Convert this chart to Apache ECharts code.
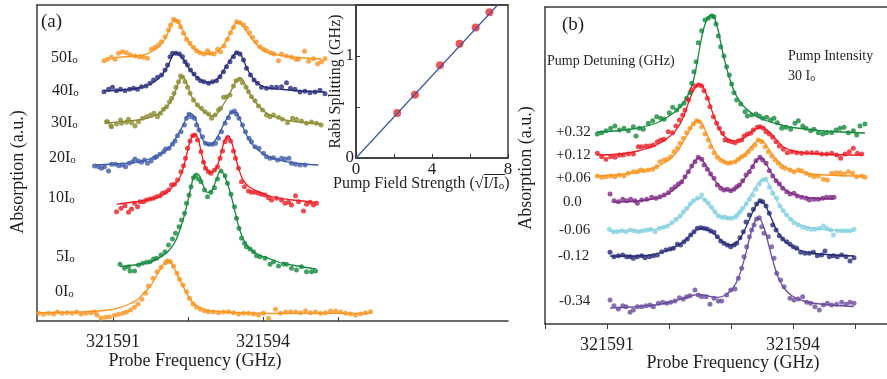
<!DOCTYPE html>
<html><head><meta charset="utf-8">
<script src="https://cdn.jsdelivr.net/npm/echarts@6/dist/echarts.min.js"></script>
<style>html,body{margin:0;padding:0;background:#fff}#c{width:887px;height:379px}</style>
</head><body><div id="c"></div>
<script>
// x values are offsets (GHz) from F0; y values are absorption (a.u.)
const F0 = 321590;
const FONT = '"Liberation Serif", "Times New Roman", serif';
const TXT = '#231f20';

// ---------- Panel (a) ----------
const a0_pts = [[-0.49,0.77],[-0.39,0.67],[-0.29,0.77],[-0.19,0.70],[-0.11,0.90],[-0.02,0.77],[0.08,0.83],[0.18,0.77],[0.27,0.90],[0.36,0.70],[0.45,0.77],[0.55,0.83],[0.63,0.90],[0.68,0.60],[0.76,0.27],[0.85,0.37],[0.93,0.43],[1.03,0.57],[1.11,0.67],[1.20,0.77],[1.27,0.90],[1.35,1.10],[1.43,1.37],[1.50,1.70],[1.58,2.17],[1.65,2.77],[1.71,3.50],[1.80,4.27],[1.88,4.93],[1.96,5.37],[2.05,5.83],[2.09,6.03],[2.15,5.93],[2.21,5.50],[2.28,4.77],[2.33,4.17],[2.40,3.60],[2.47,2.93],[2.53,2.27],[2.60,1.70],[2.67,1.37],[2.75,1.17],[2.83,1.03],[2.91,0.93],[3.01,0.90],[3.11,0.83],[3.21,0.90],[3.31,0.93],[3.41,0.83],[3.51,0.70],[3.61,0.77],[3.71,0.77],[3.81,0.70],[3.91,0.60],[4.01,0.77],[4.11,0.27],[4.25,1.17],[4.35,0.77],[4.45,0.90],[4.55,0.90],[4.65,0.90],[4.75,0.83],[4.85,1.03],[4.95,0.83],[5.05,0.90],[5.15,0.77],[5.25,0.83],[5.35,1.00],[5.45,1.00],[5.55,0.90],[5.65,0.77],[5.75,0.70],[5.85,0.60],[5.95,0.70],[6.05,0.83],[6.15,0.93]];
const a0_fit = [[-0.52,0.83],[0.0,0.87],[0.48,0.93],[0.9,1.1],[1.15,1.37],[1.35,1.75],[1.48,2.1],[1.6,2.7],[1.75,3.5],[1.88,4.6],[1.97,5.4],[2.05,5.9],[2.1,6.05],[2.16,5.85],[2.23,5.2],[2.35,4.0],[2.45,3.0],[2.55,2.1],[2.68,1.5],[2.81,1.17],[3.1,0.95],[3.48,0.83],[4.15,0.75],[5.0,0.77],[6.15,0.77]];

const a5_pts = [[1.14,5.67],[1.23,5.27],[1.31,5.43],[1.34,5.0],[1.43,5.0],[1.51,5.6],[1.59,5.77],[1.67,5.87],[1.74,5.93],[1.81,6.2],[1.87,6.27],[1.96,6.6],[2.04,6.93],[2.11,7.6],[2.19,8.2],[2.25,8.77],[2.32,9.43],[2.37,10.1],[2.43,10.77],[2.47,11.77],[2.52,12.6],[2.56,13.43],[2.61,14.33],[2.65,14.53],[2.71,14.2],[2.76,13.93],[2.83,13.1],[2.89,12.43],[2.96,12.87],[3.03,13.33],[3.09,14.2],[3.16,15.0],[3.24,14.53],[3.29,13.77],[3.36,12.67],[3.43,11.43],[3.47,10.27],[3.52,9.27],[3.57,8.27],[3.63,7.77],[3.67,7.43],[3.74,7.2],[3.81,6.93],[3.87,6.53],[3.94,6.43],[4.04,6.27],[4.14,5.67],[4.21,5.93],[4.31,5.5],[4.41,5.7],[4.47,5.67],[4.57,5.27],[4.67,5.1],[4.77,5.43],[4.87,4.93],[4.97,4.93],[5.05,5.0]];
const a5_fit = [[1.14,5.43],[1.5,5.65],[1.77,5.93],[1.95,6.4],[2.11,7.0],[2.25,8.0],[2.37,9.6],[2.45,11.0],[2.51,12.27],[2.57,13.6],[2.61,14.43],[2.67,14.77],[2.74,14.43],[2.8,13.6],[2.89,12.87],[2.96,12.95],[3.01,13.43],[3.08,14.3],[3.14,14.93],[3.21,14.77],[3.26,14.1],[3.31,13.43],[3.38,12.2],[3.44,10.93],[3.5,9.7],[3.57,8.6],[3.66,7.7],[3.77,7.1],[3.9,6.65],[4.11,6.27],[4.3,5.9],[4.57,5.6],[5.05,5.2]];

const a10_pts = [[1.07,10.93],[1.16,11.27],[1.24,11.53],[1.31,10.87],[1.37,11.2],[1.43,11.77],[1.49,11.43],[1.54,11.93],[1.61,11.93],[1.67,12.1],[1.74,12.2],[1.81,12.27],[1.87,12.43],[1.94,12.53],[1.99,12.77],[2.05,12.87],[2.11,13.1],[2.17,13.6],[2.23,13.67],[2.29,14.1],[2.36,14.93],[2.41,15.53],[2.45,16.27],[2.49,17.27],[2.54,18.0],[2.59,18.53],[2.64,18.6],[2.69,18.1],[2.76,16.93],[2.81,15.87],[2.85,15.27],[2.91,14.93],[2.96,14.77],[3.03,15.1],[3.09,15.43],[3.14,16.27],[3.19,17.0],[3.24,17.93],[3.29,18.33],[3.35,18.0],[3.41,17.0],[3.45,16.27],[3.51,15.27],[3.57,13.93],[3.63,13.43],[3.71,13.0],[3.77,12.87],[3.84,12.87],[3.91,12.77],[3.97,12.67],[4.04,12.6],[4.11,12.33],[4.17,12.1],[4.27,12.27],[4.37,12.1],[4.44,11.77],[4.51,11.87],[4.57,11.6],[4.65,12.53],[4.71,11.93],[4.81,11.0],[4.87,11.67],[4.94,11.87],[5.01,11.6],[5.07,11.77]];
const a10_fit = [[1.07,11.67],[1.4,11.9],[1.77,12.2],[1.95,12.5],[2.11,13.0],[2.22,13.6],[2.31,14.1],[2.38,14.9],[2.44,15.93],[2.49,17.0],[2.54,17.93],[2.59,18.5],[2.63,18.67],[2.67,18.5],[2.71,18.1],[2.76,17.0],[2.81,15.93],[2.86,15.25],[2.91,14.93],[2.97,14.9],[3.04,15.1],[3.1,15.7],[3.17,16.93],[3.22,17.9],[3.27,18.43],[3.31,18.5],[3.34,18.27],[3.39,17.6],[3.44,16.6],[3.5,15.5],[3.57,14.43],[3.66,13.7],[3.77,13.27],[3.95,12.85],[4.17,12.43],[4.6,12.1],[5.07,11.87]];

const a20_pts = [[0.63,15.5],[0.71,15.43],[0.77,15.27],[0.83,15.43],[0.91,15.0],[0.97,15.67],[1.05,15.67],[1.12,15.53],[1.19,15.6],[1.25,15.43],[1.32,15.77],[1.39,15.93],[1.44,16.2],[1.51,16.0],[1.57,15.87],[1.63,16.1],[1.69,15.77],[1.76,16.0],[1.83,16.33],[1.87,16.43],[1.94,16.67],[2.01,16.93],[2.05,17.2],[2.12,17.27],[2.19,17.67],[2.24,18.0],[2.29,18.53],[2.36,18.93],[2.43,19.6],[2.47,20.27],[2.52,20.67],[2.57,20.43],[2.63,20.27],[2.67,19.6],[2.72,19.1],[2.79,18.43],[2.85,17.77],[2.92,17.67],[2.99,17.67],[3.05,17.77],[3.11,18.27],[3.17,18.93],[3.24,19.77],[3.31,20.33],[3.37,20.87],[3.43,21.0],[3.47,20.67],[3.52,20.27],[3.59,19.6],[3.65,18.93],[3.72,18.27],[3.77,17.93],[3.84,17.43],[3.92,17.27],[4.01,16.77],[4.07,16.43],[4.14,16.27],[4.21,16.33],[4.29,16.1],[4.37,16.27],[4.44,16.2],[4.52,16.27],[4.57,15.77],[4.65,15.67],[4.74,15.6],[4.84,15.6]];
const a20_fit = [[0.63,15.6],[1.0,15.7],[1.44,15.87],[1.7,16.15],[1.91,16.6],[2.05,17.0],[2.17,17.6],[2.27,18.4],[2.37,19.27],[2.45,20.1],[2.51,20.6],[2.56,20.77],[2.6,20.6],[2.64,20.27],[2.7,19.5],[2.77,18.43],[2.84,17.8],[2.92,17.6],[2.99,17.75],[3.07,18.27],[3.15,19.0],[3.24,19.93],[3.31,20.5],[3.37,20.85],[3.44,20.87],[3.5,20.6],[3.57,19.77],[3.66,18.7],[3.77,17.77],[3.9,17.1],[4.04,16.6],[4.25,16.2],[4.44,15.93],[4.8,15.7],[5.11,15.6]];

const a30_pts = [[0.87,19.93],[0.89,19.93],[0.96,19.53],[0.97,19.43],[1.07,19.7],[1.15,20.1],[1.17,19.77],[1.27,19.87],[1.31,20.17],[1.37,19.83],[1.44,19.5],[1.51,19.93],[1.59,20.27],[1.67,20.43],[1.75,20.6],[1.82,20.77],[1.89,20.43],[1.95,20.77],[2.01,21.17],[2.07,21.43],[2.13,21.93],[2.17,22.27],[2.22,22.77],[2.26,23.37],[2.31,23.93],[2.35,24.5],[2.39,24.37],[2.44,23.93],[2.49,23.37],[2.54,22.77],[2.61,22.1],[2.69,21.6],[2.77,21.27],[2.84,20.93],[2.91,20.7],[2.97,20.27],[3.04,20.6],[3.11,21.1],[3.15,21.27],[3.21,22.37],[3.27,22.43],[3.34,22.6],[3.41,23.5],[3.46,24.03],[3.53,24.17],[3.59,23.83],[3.66,23.37],[3.71,22.93],[3.77,22.43],[3.84,22.03],[3.91,21.5],[3.99,21.1],[4.07,20.6],[4.14,20.43],[4.21,20.6],[4.31,20.37],[4.39,20.17],[4.49,19.83],[4.59,20.27],[4.67,20.17],[4.77,20.0],[4.87,19.77],[4.97,19.9],[5.07,19.77],[5.16,19.6]];
const a30_fit = [[0.87,19.8],[1.2,19.95],[1.5,20.1],[1.75,20.35],[1.9,20.7],[2.03,21.2],[2.15,21.9],[2.23,22.7],[2.3,23.7],[2.35,24.3],[2.38,24.5],[2.42,24.35],[2.47,23.8],[2.53,23.0],[2.6,22.2],[2.7,21.5],[2.8,21.0],[2.9,20.65],[2.98,20.5],[3.07,20.7],[3.15,21.2],[3.25,22.0],[3.35,22.9],[3.44,23.8],[3.5,24.2],[3.56,24.3],[3.61,24.0],[3.67,23.4],[3.76,22.5],[3.85,21.9],[3.97,21.2],[4.1,20.7],[4.3,20.3],[4.5,20.05],[4.8,19.85],[5.16,19.7]];

const a40_pts = [[0.82,22.93],[0.91,23.17],[0.99,23.37],[1.07,23.03],[1.15,23.17],[1.24,23.03],[1.33,23.17],[1.41,23.27],[1.49,23.17],[1.57,23.43],[1.66,23.5],[1.74,23.77],[1.81,24.1],[1.89,24.37],[1.97,24.6],[2.04,25.1],[2.09,25.6],[2.14,26.43],[2.19,26.77],[2.26,26.77],[2.33,26.7],[2.39,26.43],[2.44,25.93],[2.49,25.6],[2.55,25.1],[2.62,24.7],[2.69,24.27],[2.75,24.03],[2.82,23.93],[2.91,23.77],[2.99,23.93],[3.07,24.03],[3.14,24.43],[3.21,24.93],[3.27,25.43],[3.34,25.93],[3.41,26.43],[3.47,26.83],[3.54,26.7],[3.61,26.1],[3.67,25.27],[3.75,24.6],[3.82,24.1],[3.89,23.77],[3.97,23.37],[4.07,23.27],[4.17,23.37],[4.27,23.37],[4.37,23.43],[4.47,23.83],[4.55,23.27],[4.64,23.17],[4.74,22.9],[4.84,22.97],[4.94,22.83],[5.04,22.9],[5.14,23.07],[5.24,22.73]];
const a40_fit = [[0.82,23.0],[1.2,23.1],[1.5,23.3],[1.75,23.7],[1.9,24.2],[2.02,24.9],[2.1,25.5],[2.16,26.2],[2.2,26.6],[2.26,26.8],[2.32,26.65],[2.4,26.2],[2.5,25.4],[2.6,24.75],[2.72,24.2],[2.85,23.9],[2.95,23.85],[3.05,24.05],[3.14,24.5],[3.22,25.1],[3.32,25.9],[3.4,26.5],[3.47,26.85],[3.52,26.85],[3.58,26.4],[3.66,25.5],[3.74,24.7],[3.84,24.0],[3.95,23.6],[4.1,23.3],[4.4,23.15],[4.8,23.0],[5.24,22.9]];

const a50_pts = [[0.82,26.03],[0.89,26.17],[0.97,26.37],[1.04,26.17],[1.11,26.77],[1.19,26.93],[1.27,26.83],[1.35,26.6],[1.44,26.5],[1.53,26.43],[1.61,26.37],[1.69,26.27],[1.77,27.17],[1.84,27.37],[1.91,27.6],[1.97,27.93],[2.04,28.43],[2.11,29.1],[2.15,29.6],[2.21,30.17],[2.26,30.03],[2.31,29.93],[2.35,29.43],[2.41,28.77],[2.47,28.17],[2.54,27.77],[2.61,27.37],[2.67,27.03],[2.74,26.83],[2.82,26.7],[2.89,27.03],[2.95,26.77],[3.02,26.7],[3.09,27.17],[3.15,26.93],[3.22,27.5],[3.29,28.17],[3.35,28.83],[3.41,29.37],[3.47,29.93],[3.54,29.83],[3.61,29.6],[3.67,29.27],[3.73,28.83],[3.79,28.37],[3.86,27.93],[3.94,27.43],[4.01,27.17],[4.07,27.03],[4.15,26.83],[4.22,26.7],[4.31,26.03],[4.37,26.7],[4.47,26.5],[4.57,26.37],[4.66,26.17],[4.71,26.17],[4.83,26.97],[4.91,25.97],[5.01,26.23],[5.09,25.73],[5.17,25.9],[5.24,26.23]];
const a50_fit = [[1.04,26.37],[1.3,26.45],[1.6,26.6],[1.8,27.0],[1.95,27.6],[2.05,28.3],[2.12,29.1],[2.18,29.8],[2.23,30.1],[2.28,30.0],[2.34,29.6],[2.42,28.8],[2.5,28.0],[2.6,27.3],[2.7,27.0],[2.82,26.75],[2.95,26.7],[3.07,26.9],[3.18,27.4],[3.28,28.2],[3.36,28.9],[3.43,29.6],[3.49,29.9],[3.54,29.85],[3.6,29.5],[3.68,28.9],[3.78,28.2],[3.9,27.5],[4.03,27.0],[4.2,26.7],[4.6,26.4],[5.17,26.2]];

const a_labels = ['50I','40I','30I','20I','10I','5I','0I'];

// ---------- Inset ----------
const inset_x = [2.17, 3.10, 4.42, 5.45, 6.30, 7.02];       // pump field strength sqrt(I/Io)
const inset_y = [0.44, 0.62, 0.91, 1.12, 1.28, 1.43];       // Rabi splitting (GHz)
const inset_fit = [[0, 0], [7.45, 1.5]];

// ---------- Panel (b) ----------
const b32_pts = [[0.844,19.0],[0.914,19.13],[0.984,19.33],[1.059,19.57],[1.129,19.8],[1.199,19.4],[1.274,19.57],[1.344,19.33],[1.425,19.73],[1.468,18.8],[1.522,19.57],[1.586,19.47],[1.667,20.07],[1.737,20.33],[1.801,20.73],[1.866,20.57],[1.919,20.47],[2.005,21.13],[2.059,21.67],[2.124,21.4],[2.178,21.8],[2.242,22.07],[2.285,22.57],[2.339,23.13],[2.366,24.07],[2.403,25.23],[2.436,26.23],[2.473,28.13],[2.527,29.33],[2.581,30.4],[2.634,30.57],[2.688,30.8],[2.726,30.73],[2.758,30.0],[2.796,28.8],[2.834,27.73],[2.887,26.8],[2.93,25.73],[2.973,24.9],[3.011,24.0],[3.049,23.13],[3.092,22.4],[3.156,22.0],[3.226,21.23],[3.264,20.8],[3.334,20.9],[3.403,21.0],[3.457,20.8],[3.511,20.57],[3.575,20.67],[3.64,20.4],[3.694,20.57],[3.748,20.13],[3.817,19.57],[3.887,19.67],[3.962,19.47],[4.032,20.07],[4.086,20.33],[4.156,19.8],[4.21,19.57],[4.285,19.33],[4.339,19.47],[4.409,19.13],[4.479,19.0],[4.543,19.13],[4.624,19.13],[4.694,19.4],[4.758,19.57],[4.823,19.67],[4.893,19.13],[4.973,19.33],[5.027,18.9],[5.081,19.8],[5.161,20.0]];
const b32_fit = [[0.84,19.2],[1.2,19.35],[1.5,19.6],[1.8,20.1],[2.0,20.8],[2.15,21.5],[2.25,22.3],[2.33,23.2],[2.4,24.5],[2.45,26.0],[2.5,27.8],[2.55,29.3],[2.6,30.3],[2.65,30.8],[2.7,30.9],[2.74,30.5],[2.8,29.2],[2.85,27.6],[2.92,25.8],[3.0,24.1],[3.08,22.9],[3.2,21.8],[3.35,21.0],[3.5,20.5],[3.75,20.0],[4.0,19.65],[4.5,19.3],[5.16,19.1]];

const b12_pts = [[0.844,17.07],[0.914,16.73],[0.984,16.47],[1.059,16.73],[1.129,16.67],[1.199,16.9],[1.264,16.9],[1.344,17.0],[1.425,17.0],[1.506,17.73],[1.559,17.73],[1.629,17.8],[1.694,17.8],[1.747,17.9],[1.812,18.23],[1.866,18.4],[1.919,18.47],[1.989,19.23],[2.059,19.13],[2.113,19.8],[2.167,20.4],[2.221,20.9],[2.258,21.4],[2.312,22.4],[2.366,23.4],[2.42,23.8],[2.473,23.9],[2.527,23.8],[2.565,23.33],[2.619,22.57],[2.661,21.73],[2.715,20.73],[2.769,20.07],[2.812,19.57],[2.866,19.07],[2.903,18.4],[2.957,18.33],[3.011,18.23],[3.065,18.13],[3.119,18.33],[3.172,18.4],[3.21,18.8],[3.264,19.0],[3.317,19.07],[3.36,19.4],[3.425,19.67],[3.468,19.73],[3.522,19.57],[3.565,19.23],[3.618,19.0],[3.672,18.67],[3.726,18.23],[3.78,17.8],[3.844,17.47],[3.909,17.13],[3.979,17.23],[4.059,17.13],[4.14,17.07],[4.221,17.13],[4.301,17.13],[4.382,17.13],[4.462,17.0],[4.543,17.0],[4.624,17.07],[4.704,16.9],[4.769,16.57],[4.839,17.0],[4.909,17.23],[4.973,17.57],[5.038,17.07],[5.108,17.0]];
const b12_fit = [[0.84,16.9],[1.2,17.0],[1.5,17.3],[1.8,17.9],[2.0,18.7],[2.15,19.7],[2.25,21.0],[2.33,22.4],[2.4,23.4],[2.46,23.9],[2.5,24.0],[2.55,23.7],[2.62,22.7],[2.7,21.2],[2.78,19.9],[2.86,19.0],[2.95,18.5],[3.05,18.3],[3.15,18.4],[3.25,18.8],[3.35,19.3],[3.45,19.65],[3.5,19.7],[3.56,19.5],[3.65,19.0],[3.75,18.3],[3.85,17.7],[4.0,17.3],[4.2,17.1],[4.6,16.95],[5.11,16.9]];

const b06_pts = [[0.844,14.8],[0.914,14.67],[0.984,14.73],[1.059,14.8],[1.129,14.73],[1.199,14.9],[1.274,14.8],[1.344,15.07],[1.425,15.23],[1.489,15.23],[1.543,15.4],[1.597,15.33],[1.667,15.4],[1.737,15.47],[1.801,15.73],[1.855,16.23],[1.919,16.4],[1.973,16.47],[2.027,16.73],[2.081,17.23],[2.134,17.57],[2.177,18.07],[2.231,18.57],[2.285,19.13],[2.339,19.57],[2.393,20.0],[2.446,20.33],[2.489,20.23],[2.527,19.73],[2.581,19.0],[2.634,18.4],[2.672,17.73],[2.726,17.13],[2.78,16.67],[2.834,16.4],[2.887,16.23],[2.941,16.07],[2.995,16.13],[3.065,16.23],[3.119,16.47],[3.172,16.73],[3.226,16.9],[3.28,17.23],[3.334,17.57],[3.387,17.9],[3.441,18.4],[3.495,18.23],[3.549,17.73],[3.602,17.23],[3.656,16.8],[3.71,16.4],[3.764,16.07],[3.817,15.73],[3.871,15.57],[3.952,15.4],[4.016,15.23],[4.086,15.4],[4.14,15.33],[4.21,15.07],[4.274,14.9],[4.339,14.73],[4.409,14.8],[4.489,14.47],[4.554,14.4],[4.624,15.07],[4.694,15.13],[4.758,15.13],[4.823,15.0],[4.893,15.23],[4.962,15.07],[5.027,14.73],[5.108,14.8],[5.161,14.67]];
const b06_fit = [[0.84,14.8],[1.2,14.95],[1.5,15.2],[1.75,15.6],[1.95,16.2],[2.1,17.0],[2.2,17.9],[2.3,19.0],[2.38,19.9],[2.45,20.35],[2.5,20.3],[2.57,19.6],[2.65,18.4],[2.75,17.1],[2.85,16.4],[2.97,16.1],[3.1,16.35],[3.2,16.8],[3.3,17.5],[3.4,18.2],[3.47,18.4],[3.53,18.2],[3.62,17.4],[3.72,16.5],[3.85,15.8],[4.0,15.35],[4.3,15.0],[4.7,14.85],[5.16,14.8]];

const b00_pts = [[1.049,13.0],[1.113,12.33],[1.183,12.23],[1.253,12.47],[1.317,12.33],[1.382,12.47],[1.452,12.33],[1.49,12.07],[1.559,12.4],[1.64,12.47],[1.721,12.67],[1.79,12.57],[1.855,12.73],[1.92,12.9],[1.989,13.13],[2.043,13.47],[2.097,13.73],[2.151,14.0],[2.204,14.23],[2.258,14.73],[2.312,15.23],[2.366,15.8],[2.42,16.23],[2.473,16.67],[2.527,16.47],[2.565,15.9],[2.618,15.47],[2.672,15.0],[2.726,14.57],[2.78,13.9],[2.834,13.57],[2.887,13.4],[2.941,13.47],[2.995,13.33],[3.049,13.47],[3.092,13.73],[3.135,13.9],[3.188,14.33],[3.242,14.9],[3.296,15.23],[3.35,15.73],[3.403,16.33],[3.468,16.67],[3.511,16.4],[3.565,16.07],[3.618,15.33],[3.672,14.8],[3.726,14.33],[3.78,14.0],[3.834,13.57],[3.898,13.23],[3.952,13.0],[4.016,13.07],[4.07,12.8],[4.14,12.67],[4.21,12.57],[4.264,12.4],[4.339,12.47],[4.409,12.47],[4.479,12.57],[4.543,12.67],[4.608,12.67],[4.661,12.67]];
const b00_fit = [[1.11,12.2],[1.4,12.25],[1.7,12.45],[1.9,12.8],[2.05,13.3],[2.18,14.0],[2.28,14.9],[2.37,15.8],[2.43,16.4],[2.48,16.6],[2.53,16.45],[2.6,15.8],[2.7,14.7],[2.8,13.9],[2.9,13.45],[3.0,13.35],[3.1,13.65],[3.2,14.35],[3.3,15.3],[3.38,16.1],[3.45,16.55],[3.5,16.55],[3.56,16.1],[3.65,15.1],[3.75,14.2],[3.88,13.4],[4.05,12.9],[4.3,12.6],[4.66,12.5]];

const bm06_pts = [[1.038,9.47],[1.102,9.23],[1.167,9.23],[1.237,9.33],[1.307,9.23],[1.371,9.4],[1.436,9.33],[1.506,9.23],[1.575,9.33],[1.64,9.4],[1.704,9.47],[1.774,9.23],[1.844,9.57],[1.909,9.67],[1.973,9.8],[2.043,10.13],[2.113,10.47],[2.177,10.8],[2.231,11.23],[2.285,11.57],[2.339,12.0],[2.393,12.33],[2.457,12.57],[2.527,12.9],[2.581,12.4],[2.634,12.07],[2.688,11.67],[2.742,11.23],[2.796,10.8],[2.85,10.67],[2.903,10.67],[2.957,10.57],[3.011,10.57],[3.065,10.67],[3.102,10.9],[3.145,11.23],[3.188,11.57],[3.242,12.0],[3.296,12.47],[3.35,12.9],[3.403,13.47],[3.457,14.0],[3.511,14.4],[3.565,14.5],[3.618,13.67],[3.672,13.07],[3.737,12.57],[3.79,11.8],[3.844,11.33],[3.898,10.9],[3.962,10.47],[4.016,10.13],[4.086,9.9],[4.156,9.67],[4.221,9.57],[4.285,9.47],[4.355,9.47],[4.425,9.57],[4.489,9.8],[4.543,9.57],[4.608,9.4],[4.651,8.9],[4.715,9.33],[4.785,9.33],[4.855,9.33],[4.92,9.33],[4.984,9.47]];
const bm06_fit = [[1.04,9.3],[1.4,9.33],[1.7,9.42],[1.95,9.75],[2.1,10.3],[2.22,11.0],[2.33,11.8],[2.42,12.4],[2.5,12.6],[2.58,12.4],[2.66,11.8],[2.76,11.0],[2.86,10.65],[2.97,10.55],[3.08,10.8],[3.18,11.4],[3.28,12.4],[3.38,13.5],[3.47,14.3],[3.53,14.5],[3.59,14.2],[3.67,13.2],[3.77,12.0],[3.88,11.0],[4.0,10.3],[4.2,9.75],[4.5,9.45],[4.98,9.3]];

const bm12_pts = [[1.049,7.17],[1.113,6.73],[1.183,6.83],[1.253,6.9],[1.317,6.73],[1.371,6.73],[1.425,6.57],[1.49,6.73],[1.559,6.83],[1.613,6.63],[1.683,6.73],[1.747,6.83],[1.812,6.9],[1.882,7.23],[1.952,7.4],[2.016,7.5],[2.07,7.57],[2.135,7.97],[2.188,7.9],[2.242,8.23],[2.296,8.5],[2.35,8.9],[2.403,9.23],[2.457,9.57],[2.511,9.63],[2.565,9.57],[2.618,9.5],[2.672,9.3],[2.726,9.17],[2.78,8.73],[2.834,8.3],[2.887,8.07],[2.941,7.9],[2.995,7.73],[3.049,7.9],[3.092,8.07],[3.145,8.63],[3.199,9.23],[3.242,10.2],[3.296,10.9],[3.36,11.47],[3.414,12.0],[3.468,12.33],[3.511,12.23],[3.565,11.8],[3.618,11.07],[3.672,9.9],[3.726,9.4],[3.78,8.83],[3.834,8.5],[3.898,8.23],[3.952,7.97],[4.005,7.73],[4.059,7.57],[4.124,7.17],[4.194,7.07],[4.264,7.07],[4.328,7.17],[4.393,6.83],[4.462,6.9],[4.516,7.3],[4.586,6.73],[4.651,6.83],[4.715,6.73],[4.785,6.9],[4.855,6.73],[4.919,6.3],[4.984,6.63]];
const bm12_fit = [[1.05,6.8],[1.4,6.8],[1.7,6.9],[1.95,7.3],[2.1,7.7],[2.25,8.3],[2.37,9.0],[2.47,9.5],[2.55,9.55],[2.65,9.35],[2.75,8.9],[2.85,8.3],[2.95,7.9],[3.05,7.95],[3.15,8.6],[3.25,9.8],[3.35,11.2],[3.43,12.1],[3.48,12.3],[3.54,12.0],[3.62,11.0],[3.72,9.6],[3.82,8.6],[3.95,7.9],[4.1,7.4],[4.35,7.05],[4.98,6.8]];

const bm34_pts = [[1.049,2.4],[1.113,1.83],[1.183,1.5],[1.253,1.83],[1.307,1.73],[1.371,1.17],[1.425,1.4],[1.49,1.73],[1.559,1.73],[1.629,1.83],[1.694,1.9],[1.747,1.73],[1.828,2.07],[1.898,2.17],[1.963,2.07],[2.027,2.17],[2.097,2.3],[2.167,2.63],[2.231,2.5],[2.285,2.73],[2.339,2.83],[2.419,3.4],[2.473,2.9],[2.527,2.73],[2.597,2.73],[2.661,1.97],[2.726,2.57],[2.796,2.3],[2.85,2.3],[2.93,2.9],[2.995,3.4],[3.065,3.5],[3.118,4.57],[3.172,5.57],[3.21,6.73],[3.253,7.73],[3.296,8.73],[3.334,9.4],[3.371,9.9],[3.414,10.5],[3.457,10.63],[3.495,9.73],[3.532,9.07],[3.602,8.73],[3.656,7.73],[3.694,6.57],[3.737,5.07],[3.801,4.4],[3.855,3.73],[3.952,2.57],[4.016,2.4],[4.086,2.5],[4.156,2.73],[4.221,2.17],[4.285,2.07],[4.355,1.73],[4.425,1.4],[4.489,1.9],[4.554,2.07],[4.624,1.9],[4.704,1.97],[4.785,2.17],[4.855,1.97],[4.919,2.17],[4.984,2.07]];
const bm34_fit = [[1.05,1.6],[1.4,1.7],[1.7,1.85],[2.0,2.15],[2.2,2.5],[2.35,2.8],[2.48,2.95],[2.6,2.85],[2.75,2.65],[2.9,2.85],[3.02,3.5],[3.12,4.6],[3.22,6.6],[3.3,8.6],[3.37,10.0],[3.43,10.6],[3.48,10.4],[3.55,9.3],[3.62,7.6],[3.7,5.8],[3.78,4.4],[3.88,3.4],[4.0,2.75],[4.2,2.25],[4.5,1.95],[4.98,1.75]];

const b_labels = ['+0.32','+0.12','+0.06','0.0','-0.06','-0.12','-0.34'];

// tick values
const a_ticks = [321591, 321592.5, 321594, 321595.5];
const a_tickLabels = [321591, 321594];
const b_tickLabels = [321591, 321594];
const inset_xLabels = [0, 4, 8];
const inset_yLabels = [0, 1];

// ---------- build ----------
const COL = {
  orange:'#F7931E', green:'#15893D', red:'#EC1D25', blue:'#3E5BA8', olive:'#8B8A30', navy:'#272A78',
  purple:'#7E2B84', cyan:'#86D1E1', violet:'#6C4D9E', fitBlue:'#3B55A5'
};
const sh = d => d.map(p => [p[0] + F0, p[1]]);
const series = [];
function curve(pts, fit, color, gi) {
  series.push({type:'line', xAxisIndex: gi.x, yAxisIndex: gi.y, data: sh(fit), smooth: 0.35, showSymbol:false,
    lineStyle:{color, width:1.3}, silent:true, z:2});
  series.push({type:'scatter', xAxisIndex: gi.x, yAxisIndex: gi.y, data: sh(pts), symbolSize:5,
    itemStyle:{color}, silent:true, z:3});
}
const GA = {x:0, y:0}, GB = {x:3, y:2};
curve(a0_pts, a0_fit, COL.orange, GA);
curve(a5_pts, a5_fit, COL.green, GA);
curve(a10_pts, a10_fit, COL.red, GA);
curve(a20_pts, a20_fit, COL.blue, GA);
curve(a30_pts, a30_fit, COL.olive, GA);
curve(a40_pts, a40_fit, COL.navy, GA);
curve(a50_pts, a50_fit, COL.orange, GA);

series.push({type:'line', xAxisIndex:2, yAxisIndex:1, data: inset_fit, showSymbol:false,
  lineStyle:{color:COL.fitBlue, width:1.2}, silent:true});
series.push({type:'scatter', xAxisIndex:2, yAxisIndex:1, data: inset_x.map((x,i)=>[x, inset_y[i]]),
  symbolSize:8, itemStyle:{color:'#EE2A2E'}, silent:true});

curve(b32_pts, b32_fit, COL.green, GB);
curve(b12_pts, b12_fit, COL.red, GB);
curve(b06_pts, b06_fit, COL.orange, GB);
curve(b00_pts, b00_fit, COL.purple, GB);
curve(bm06_pts, bm06_fit, COL.cyan, GB);
curve(bm12_pts, bm12_fit, COL.navy, GB);
curve(bm34_pts, bm34_fit, COL.violet, GB);

const axLine = {show:true, lineStyle:{color:'#3a3a3a', width:1.5}};
const hid = {show:false};
const plain = v => String(v);

function ioLabel(main, x, y, size) {
  return {type:'text', x, y, silent:true, style:{
    text: '{m|' + main + '}{s|o}', verticalAlign:'middle', align:'left',
    rich:{ m:{fontSize:size, fontFamily:FONT, fill:TXT, lineHeight:size+2, verticalAlign:'bottom'},
           s:{fontSize:Math.round(size*0.7), fontFamily:FONT, fill:TXT, lineHeight:Math.round(size*0.7), verticalAlign:'bottom'} }
  }};
}
function txt(t, x, y, size, align) {
  return {type:'text', x, y, silent:true, style:{text:t, font: size + 'px ' + FONT, fill:TXT,
    verticalAlign:'middle', align: align || 'left'}};
}
const aLabY = [57, 90, 122, 157, 197, 256, 291];
const aLabX = [51, 52, 51, 49, 48, 56, 55];
const bLabY = [132, 155, 178, 202, 230, 256, 301];
const bLabX = [556, 556, 556, 563, 559, 558, 559];

const graphic = [];
a_labels.forEach((l, i) => graphic.push(ioLabel(l, aLabX[i], aLabY[i], 16)));
b_labels.forEach((l, i) => graphic.push(txt(l, bLabX[i], bLabY[i], 15)));
graphic.push(txt('(a)', 41, 22, 19));
graphic.push(txt('(b)', 562, 25, 19));
graphic.push(txt('Pump Detuning (GHz)', 547, 61, 14));
graphic.push(txt('Pump Intensity', 788, 56, 14));
graphic.push(ioLabel('30 I', 788, 75, 14));
graphic.push({type:'text', x:333, y:183, silent:true, style:{
  text:'{m|Pump Field Strength (√I/I}{s|o}{m|)}', verticalAlign:'middle', align:'left',
  rich:{ m:{fontSize:16, fontFamily:FONT, fill:TXT, lineHeight:18, verticalAlign:'bottom'},
         s:{fontSize:11, fontFamily:FONT, fill:TXT, lineHeight:11, verticalAlign:'bottom'} } }});
// overline of the square-root sign
graphic.push({type:'line', silent:true, shape:{x1:484, y1:174.5, x2:505, y2:174.5},
  style:{stroke:TXT, lineWidth:1}});

const option = {
  animation:false,
  backgroundColor:'#fff',
  textStyle:{fontFamily:FONT, color:TXT},
  graphic,
  grid:[
    {left:37, top:5, width:471, height:316, outerBoundsMode:'none'},
    {left:356, top:5, width:152, height:153, show:true, borderColor:'#3a3a3a', borderWidth:1.5, backgroundColor:'transparent', outerBoundsMode:'none'},
    {left:545, top:7, right:0, height:317, outerBoundsMode:'none'}
  ],
  xAxis:[
    {gridIndex:0, type:'value', min:F0-0.52, max:F0+8.9, axisLine:axLine,
     axisTick:{show:true, inside:true, length:4, customValues:a_ticks, lineStyle:{color:'#3a3a3a'}},
     axisLabel:{show:true, customValues:a_tickLabels, formatter:plain, fontSize:18, fontFamily:FONT, color:TXT, margin:12},
     splitLine:hid, name:'Probe Frequency (GHz)', nameLocation:'middle', nameGap:31, nameMoveOverlap:false,
     nameTextStyle:{fontSize:18, fontFamily:FONT, color:TXT, padding:[0,155,0,0]}},
    {gridIndex:0, type:'value', position:'top', min:F0-0.52, max:F0+8.9, axisLine:axLine,
     axisTick:hid, axisLabel:hid, splitLine:hid},
    {gridIndex:1, type:'value', min:0, max:8, interval:2, axisLine:axLine,
     axisTick:{show:true, inside:true, length:4, lineStyle:{color:'#3a3a3a'}},
     axisLabel:{show:true, customValues:inset_xLabels, formatter:plain, fontSize:17, fontFamily:FONT, color:TXT, margin:3},
     splitLine:hid},
    {gridIndex:2, type:'value', min:F0, max:F0+5.516, interval:1, axisLine:axLine,
     axisTick:{show:true, inside:false, length:5, lineStyle:{color:'#3a3a3a'}},
     axisLabel:{show:true, customValues:b_tickLabels, formatter:plain, fontSize:18, fontFamily:FONT, color:TXT, margin:12},
     splitLine:hid, name:'Probe Frequency (GHz)', nameLocation:'middle', nameGap:30, nameMoveOverlap:false,
     nameTextStyle:{fontSize:18, fontFamily:FONT, color:TXT, padding:[0,0,0,34]}},
    {gridIndex:2, type:'value', position:'top', min:F0, max:F0+5.516, axisLine:axLine,
     axisTick:hid, axisLabel:hid, splitLine:hid}
  ],
  yAxis:[
    {gridIndex:0, type:'value', min:0, max:31.6, axisLine:axLine, axisTick:hid, axisLabel:hid, splitLine:hid,
     name:'Absorption (a.u.)', nameLocation:'middle', nameGap:10, nameMoveOverlap:false,
     nameTextStyle:{fontSize:18, fontFamily:FONT, color:TXT, padding:[0,18,0,0]}},
    {gridIndex:1, type:'value', min:0, max:1.5, interval:0.5, axisLine:axLine,
     axisTick:{show:true, inside:true, length:4, lineStyle:{color:'#3a3a3a'}},
     axisLabel:{show:true, customValues:inset_yLabels, formatter:plain, fontSize:17, fontFamily:FONT, color:TXT, margin:2},
     splitLine:hid, name:'Rabi Splitting (GHz)', nameLocation:'middle', nameGap:12, nameMoveOverlap:false,
     nameTextStyle:{fontSize:16, fontFamily:FONT, color:TXT}},
    {gridIndex:2, type:'value', min:0, max:31.7, axisLine:axLine, axisTick:hid, axisLabel:hid, splitLine:hid,
     name:'Absorption (a.u.)', nameLocation:'middle', nameGap:10, nameMoveOverlap:false,
     nameTextStyle:{fontSize:18, fontFamily:FONT, color:TXT, padding:[0,5,0,0]}}
  ],
  series
};
const chart = echarts.init(document.getElementById('c'), null, {renderer:'canvas'});
chart.setOption(option);
</script></body></html>
